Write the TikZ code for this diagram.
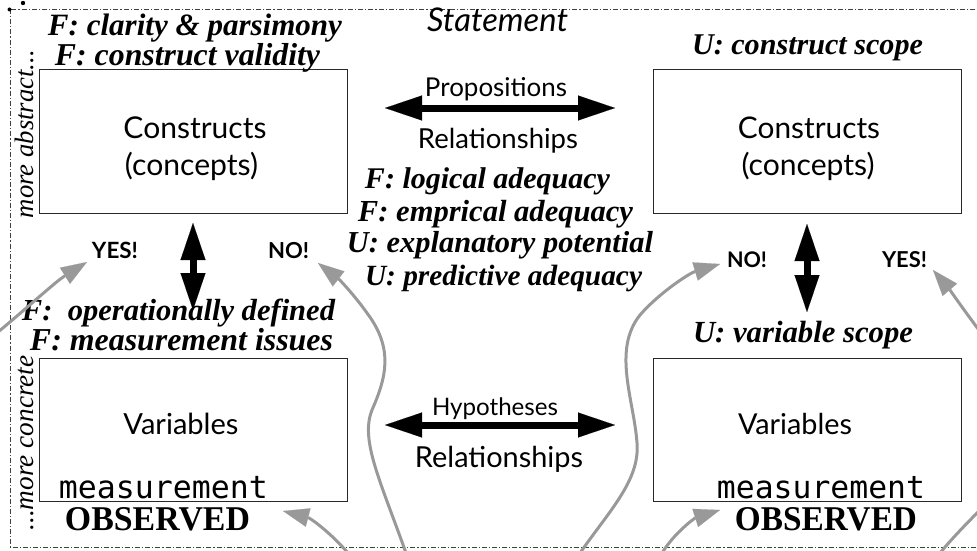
\documentclass[tikz,border=0pt]{standalone}
\usepackage{fontspec}
\usetikzlibrary{arrows.meta}
\newfontfamily\gillf{Lato}
\newfontfamily\gothf{Liberation Serif}
\newfontfamily\monof{DejaVu Sans Mono}
\newfontfamily\serf{Liberation Serif}
\newcommand\fitw[2]{\resizebox{#1}{!}{#2}}
\definecolor{arrowgray}{RGB}{153,153,153}
\definecolor{boxc}{RGB}{40,40,40}
\tikzset{
  lbl/.style={inner sep=0pt, anchor=base},
  boxnode/.style={draw=boxc, line width=1pt, minimum width=308pt, minimum height=143pt, inner sep=0pt},
  bigarrow/.style={line width=7pt, {Triangle[length=37pt,width=25pt,line width=0.1pt]}-{Triangle[length=37pt,width=25pt,line width=0.1pt]}},
  grayarrow/.style={draw=arrowgray, line width=3pt, -{Triangle[length=26pt,width=19pt,line width=0.1pt]}},
  grayline/.style={draw=arrowgray, line width=3pt},
  frameline/.style={draw=black!75, line width=0.9pt, dash pattern=on 5pt off 2pt on 1.2pt off 2pt},
}
\begin{document}
\begin{tikzpicture}[x=1pt,y=-1pt]
\useasboundingbox (0,0) rectangle (977,551);
\clip (0,0) rectangle (977,551);
% frame
\draw[frameline] (10,9) rectangle (995,547);
\fill (9.5,9.5) circle (2);
\fill (23,3) circle (2.2);
% boxes
\node[boxnode] (c1) at (193,141.5) {};
\node[boxnode] (c2) at (807,141.5) {};
\node[boxnode] (v1) at (193,429.5) {};
\node[boxnode] (v2) at (807,429.5) {};
% box texts
\node[lbl] (c1t) at (195,138) {\fitw{143pt}{\gillf Constructs}};
\node[lbl] (c1p) at (191.5,175) {\fitw{133pt}{\gillf (concepts)}};
\node[lbl] (c2t) at (809,138) {\fitw{142pt}{\gillf Constructs}};
\node[lbl] (c2p) at (808,175) {\fitw{133pt}{\gillf (concepts)}};
\node[lbl] (v1t) at (181,434) {\fitw{115pt}{\gillf Variables}};
\node[lbl] (v2t) at (795,434) {\fitw{114pt}{\gillf Variables}};
\node[lbl] (m1) at (163.5,498) {\fitw{209pt}{\monof measurement}};
\node[lbl] (m2) at (821,498) {\fitw{208pt}{\monof measurement}};
\node[lbl] (o1) at (157.5,530) {\resizebox{185pt}{23pt}{\serf\bfseries OBSERVED}};
\node[lbl] (o2) at (826,530) {\resizebox{182pt}{23pt}{\serf\bfseries OBSERVED}};
% middle texts
\node[lbl] (stmt) at (497.5,32) {\fitw{141pt}{\gillf\itshape Statement}};
\node[lbl] (prop) at (496,96) {\fitw{142pt}{\gillf Propositions}};
\node[lbl] (rel1) at (498,148) {\fitw{160pt}{\gillf Relationships}};
\node[lbl] (hyp) at (495,415) {\fitw{126pt}{\gillf Hypotheses}};
\node[lbl] (rel2) at (499,467) {\fitw{168pt}{\gillf Relationships}};
% yes / no
\node[lbl] (yes1) at (115,258) {\fitw{46pt}{\gillf\bfseries YES!}};
\node[lbl] (no1) at (288.5,258) {\fitw{41pt}{\gillf\bfseries NO!}};
\node[lbl] (no2) at (747,267) {\fitw{40pt}{\gillf\bfseries NO!}};
\node[lbl] (yes2) at (904.5,267) {\fitw{45pt}{\gillf\bfseries YES!}};
% criteria
\node[lbl] (g1) at (195,36) {\fitw{294pt}{\gothf\bfseries\itshape F: clarity \& parsimony}};
\node[lbl] (g2) at (187.5,66) {\fitw{265pt}{\gothf\bfseries\itshape F: construct validity}};
\node[lbl] (g3) at (807.5,54) {\fitw{231pt}{\gothf\bfseries\itshape U: construct scope}};
\node[lbl] (g4) at (487.5,188) {\fitw{245pt}{\gothf\bfseries\itshape F: logical adequacy}};
\node[lbl] (g5) at (495.5,221) {\fitw{275pt}{\gothf\bfseries\itshape F: emprical adequacy}};
\node[lbl] (g6) at (500,252) {\fitw{306pt}{\gothf\bfseries\itshape U: explanatory potential}};
\node[lbl] (g7) at (503.5,285) {\fitw{277pt}{\gothf\bfseries\itshape U: predictive adequacy}};
\node[lbl] (g8) at (178.5,320) {\fitw{313pt}{\gothf\bfseries\itshape F:\ \ operationally defined}};
\node[lbl] (g9) at (181.5,350) {\fitw{303pt}{\gothf\bfseries\itshape F: measurement issues}};
\node[lbl] (g10) at (803,342) {\fitw{220pt}{\gothf\bfseries\itshape U: variable scope}};
% side labels
\node[lbl, rotate=90] (abs) at (33,134) {\fitw{168pt}{\serf\itshape more abstract...}};
\node[lbl, rotate=90] (conc) at (33,443) {\fitw{175pt}{\serf\itshape ...more concrete}};
% black arrows
\coordinate (pa) at (385,108); \coordinate (pb) at (615,108);
\coordinate (ha) at (385,425); \coordinate (hb) at (615,425);
\coordinate (va1) at (193,223); \coordinate (vb1) at (193,310);
\coordinate (va2) at (807,224); \coordinate (vb2) at (807,312);
\draw[bigarrow] (pa) -- (pb);
\draw[bigarrow] (ha) -- (hb);
\draw[bigarrow] (va1) -- (vb1);
\draw[bigarrow] (va2) -- (vb2);
% gray curves
\coordinate (s1) at (-8,337); \coordinate (t1) at (87,262);
\coordinate (s2) at (406,553); \coordinate (t2) at (318,263);
\coordinate (s3) at (348,553); \coordinate (t3) at (283,511);
\coordinate (s4) at (580,553); \coordinate (t4) at (720,264);
\coordinate (s5) at (662,553); \coordinate (t5) at (720,510);
\coordinate (s6) at (988,342); \coordinate (t6) at (933,270);
\coordinate (s7) at (940,553); \coordinate (t7) at (990,500);
\draw[grayarrow] (s1) .. controls (25,310) and (55,282) .. (t1);
\draw[grayarrow] (s2) .. controls (380,480) and (360,440) .. (372,410)
   .. controls (385,380) and (395,350) .. (367,313)
   .. controls (355,296) and (340,280) .. (t2);
\draw[grayarrow] (s3) .. controls (330,532) and (310,518) .. (t3);
\draw[grayarrow] (s4) .. controls (610,510) and (640,480) .. (637,443)
   .. controls (634,400) and (612,350) .. (640,315)
   .. controls (660,292) and (690,273) .. (t4);
\draw[grayarrow] (s5) .. controls (675,532) and (695,518) .. (t5);
\draw[grayarrow] (s6) .. controls (965,312) and (950,290) .. (t6);
\draw[grayline] (s7) .. controls (955,535) and (970,520) .. (t7);
\end{tikzpicture}
\end{document}
